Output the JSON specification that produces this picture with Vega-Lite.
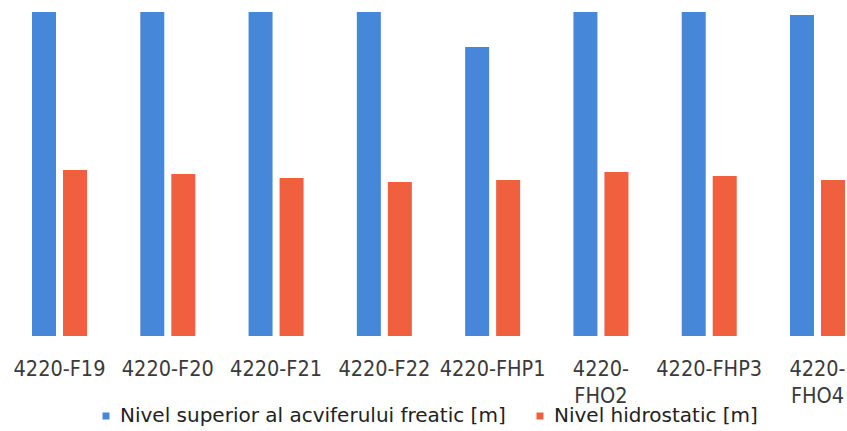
{
  "$schema": "https://vega.github.io/schema/vega-lite/v6.json",
  "autosize": "none",
  "padding": {"left": 0, "top": 0, "right": 0, "bottom": 95},
  "width": 847,
  "height": 336,
  "background": "#ffffff",
  "config": {"view": {"stroke": null}},
  "data": {
    "values": [
      {"well": "4220-F19", "series": "Nivel superior al acviferului freatic [m]", "value": 3.24},
      {"well": "4220-F19", "series": "Nivel hidrostatic [m]", "value": 1.66},
      {"well": "4220-F20", "series": "Nivel superior al acviferului freatic [m]", "value": 3.24},
      {"well": "4220-F20", "series": "Nivel hidrostatic [m]", "value": 1.62},
      {"well": "4220-F21", "series": "Nivel superior al acviferului freatic [m]", "value": 3.24},
      {"well": "4220-F21", "series": "Nivel hidrostatic [m]", "value": 1.58},
      {"well": "4220-F22", "series": "Nivel superior al acviferului freatic [m]", "value": 3.24},
      {"well": "4220-F22", "series": "Nivel hidrostatic [m]", "value": 1.54},
      {"well": "4220-FHP1", "series": "Nivel superior al acviferului freatic [m]", "value": 2.89},
      {"well": "4220-FHP1", "series": "Nivel hidrostatic [m]", "value": 1.56},
      {"well": "4220-FHO2", "series": "Nivel superior al acviferului freatic [m]", "value": 3.24},
      {"well": "4220-FHO2", "series": "Nivel hidrostatic [m]", "value": 1.64},
      {"well": "4220-FHP3", "series": "Nivel superior al acviferului freatic [m]", "value": 3.24},
      {"well": "4220-FHP3", "series": "Nivel hidrostatic [m]", "value": 1.60},
      {"well": "4220-FHO4", "series": "Nivel superior al acviferului freatic [m]", "value": 3.21},
      {"well": "4220-FHO4", "series": "Nivel hidrostatic [m]", "value": 1.56}
    ]
  },
  "mark": {"type": "bar"},
  "encoding": {
    "x": {
      "field": "well",
      "type": "nominal",
      "sort": null,
      "scale": {"range": [32, 845], "paddingInner": 0.492, "paddingOuter": 0},
      "axis": {
        "title": null,
        "domain": false,
        "ticks": false,
        "tickSize": 0,
        "labelAngle": 0,
        "labelPadding": 22,
        "labelFont": "DejaVu Sans Condensed",
        "labelFontSize": 21.5,
        "labelColor": "#3a3a3a",
        "labelLineHeight": 27,
        "labelOverlap": false,
        "labelBound": false,
        "labelLimit": 300,
        "labelExpr": "indexof(datum.value, 'FHO') >= 0 ? [slice(datum.value, 0, 5), slice(datum.value, 5)] : datum.value"
      }
    },
    "xOffset": {
      "field": "series",
      "type": "nominal",
      "scale": {
        "domain": ["Nivel superior al acviferului freatic [m]", "Nivel hidrostatic [m]"],
        "paddingInner": 0.226,
        "paddingOuter": 0
      }
    },
    "y": {
      "field": "value",
      "type": "quantitative",
      "scale": {"domain": [0, 3.36], "nice": false},
      "axis": null
    },
    "color": {
      "field": "series",
      "type": "nominal",
      "scale": {
        "domain": ["Nivel superior al acviferului freatic [m]", "Nivel hidrostatic [m]"],
        "range": ["#4787da", "#f0603f"]
      },
      "legend": {
        "title": null,
        "orient": "none",
        "direction": "horizontal",
        "legendX": 96,
        "legendY": 406,
        "padding": 0,
        "symbolType": "square",
        "symbolSize": 49,
        "labelFont": "DejaVu Sans",
        "labelFontSize": 20,
        "labelColor": "#222222",
        "labelOffset": 4,
        "labelLimit": 500,
        "columnPadding": 24
      }
    }
  }
}
